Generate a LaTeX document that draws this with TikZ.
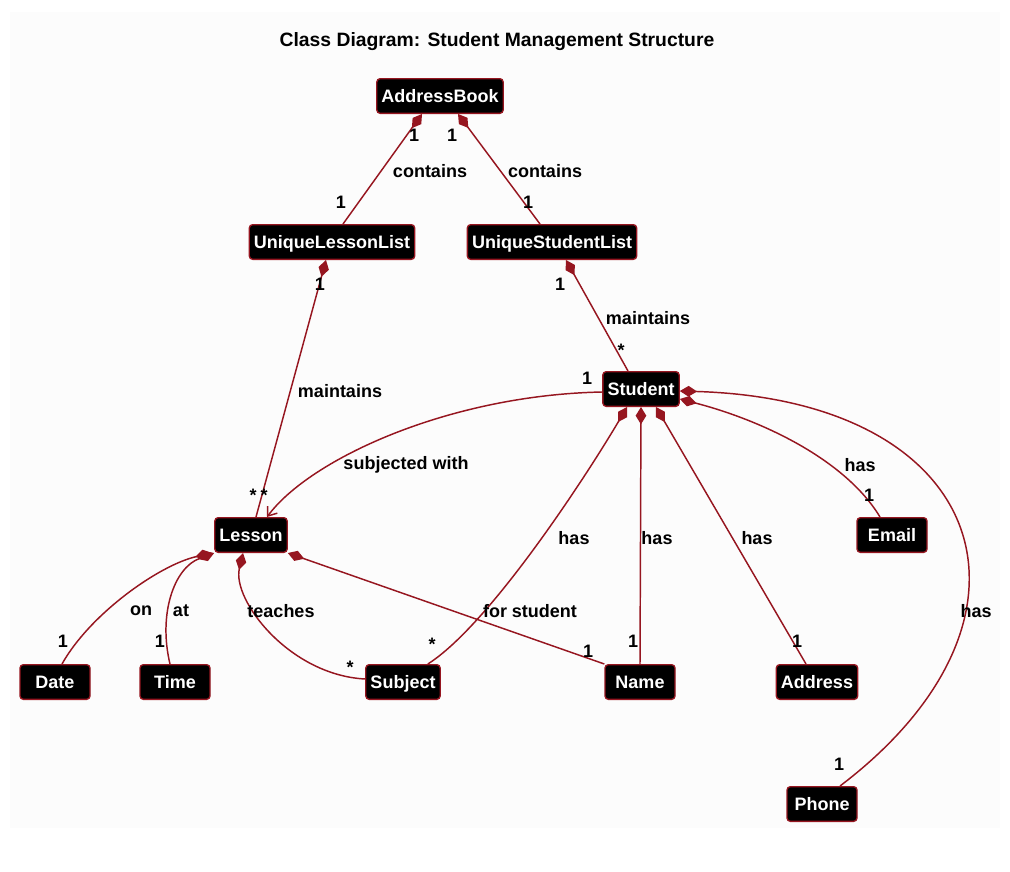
\documentclass[tikz,border=0pt]{standalone}
\usepackage{fontspec}
\setmainfont{Liberation Sans}
\usepackage{xcolor}
\usepackage{tikz}
\usetikzlibrary{arrows.meta,calc}

\definecolor{umlred}{RGB}{150,22,32}
\definecolor{panelbg}{RGB}{252,252,252}

\begin{document}
\begin{tikzpicture}[
  x=0.75pt, y=-0.75pt,
  cls/.style={draw=umlred, line width=1pt, fill=black, text=white, rounded corners=2.5pt, font=\fontsize{13.5}{16}\selectfont\bfseries, minimum height=26pt, minimum width=52.5pt, inner xsep=3.5pt, text height=9.7pt, text depth=0pt},
  lbl/.style={font=\fontsize{13.5}{16}\selectfont\bfseries, inner sep=0pt},
  comp/.style={{Diamond[length=13pt, width=8pt]}-, line width=1.1pt, draw=umlred},
  assoc/.style={-{Straight Barb[length=6pt, width=9pt]}, line width=1.1pt, draw=umlred}
]
\useasboundingbox (0,0) rectangle (1010,871);
\fill[panelbg] (10,12) rectangle (1000,828);

\node[lbl, font=\fontsize{14.5}{17}\selectfont\bfseries] (title) at (497,42) {Class Diagram: Student Management Structure};

% classes
\node[cls] (addressbook) at (440,96) {AddressBook};
\node[cls] (lessonlist) at (332,242) {UniqueLessonList};
\node[cls] (studentlist) at (552,242) {UniqueStudentList};
\node[cls] (student) at (641,389) {Student};
\node[cls] (lesson) at (251,535) {Lesson};
\node[cls] (email) at (892,535) {Email};
\node[cls] (date) at (55,682) {Date};
\node[cls] (time) at (175,682) {Time};
\node[cls] (subject) at (403,682) {Subject};
\node[cls] (name) at (640,682) {Name};
\node[cls] (address) at (817,682) {Address};
\node[cls] (phone) at (822,804) {Phone};

% compositions
\draw[comp] ($(addressbook.south)+(-18,0)$) -- ($(lessonlist.north)+(11,0)$);
\draw[comp] ($(addressbook.south)+(18,0)$) -- ($(studentlist.north)+(-12,0)$);
\draw[comp] ($(lessonlist.south)+(-6,0)$) -- ($(lesson.north)+(5,0)$);
\draw[comp] ($(studentlist.south)+(14,0)$) -- ($(student.north)+(-13,0)$);
\draw[comp] ($(lesson.south west)+(-2,0)$) .. controls +(-53,12) and +(28,-50) .. ($(date.north)+(7,0)$);
\draw[comp] (lesson.south west) .. controls +(-40,15) and +(-12,-50) .. ($(time.north)+(-5,0)$);
\draw[comp] ($(lesson.south)+(-8,0)$) .. controls +(-11,47) and +(-76,-4) .. ($(subject.west)+(0,-3)$);
\draw[comp] (lesson.south east) -- (name.north west);
\draw[comp] ($(student.south)+(-14,0)$) .. controls +(-37,63) and +(63,-40) .. ($(subject.north east)+(-13,0)$);
\draw[comp] (student.south) -- (name.north);
\draw[comp] ($(student.south)+(15,0)$) -- ($(address.north)+(-11,0)$);
\draw[comp] ($(student.east)+(0,10)$) .. controls +(81,21) and +(-35,-58) .. ($(email.north)+(-12,0)$);
\draw[comp] ($(student.east)+(0,2)$) .. controls +(311,9) and +(220,-167) .. ($(phone.north)+(18,0)$);

% association
\draw[assoc] ($(student.west)+(0,3)$) .. controls +(-153,3) and +(43,-58) .. ($(lesson.north)+(16,0)$);

% role names
\foreach \nm/\xy/\txt in {
  c1/{430,171}/contains, c2/{545,171}/contains,
  m1/{340,391}/maintains, m2/{648,318}/maintains,
  sw/{406,465}/subjected with, on/{141,611}/on, at/{181,611}/at,
  te/{281,611}/teaches, fs/{530,611}/for student,
  h1/{574,538}/has, h2/{657,538}/has, h3/{757,538}/has,
  h4/{860,465}/has, h5/{976,611}/has}
  \node[lbl] (\nm) at (\xy) {\txt};

% multiplicities
\foreach \nm/\xy/\txt in {
  k1/{414,135}/1, k2/{452,135}/1, k3/{341,202}/1, k4/{528,202}/1,
  k5/{320,284}/1, k6/{560,284}/1, k7/{587,378}/1,
  k8/{63,641}/1, k9/{160,641}/1, k10/{588,651}/1, k11/{633,641}/1,
  k12/{797,641}/1, k13/{869,495}/1, k14/{839,764}/1,
  s1/{253,495}/*, s2/{264,495}/*, s3/{621,350}/*, s4/{350,667}/*, s5/{432,644}/*}
  \node[lbl] (\nm) at (\xy) {\txt};
\end{tikzpicture}
\end{document}
